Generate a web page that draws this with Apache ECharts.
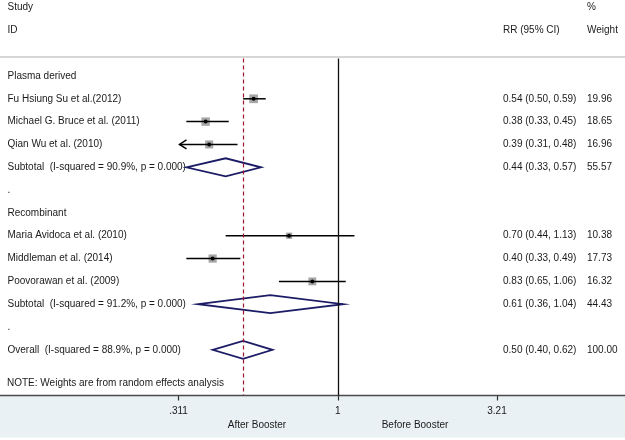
<!DOCTYPE html>
<html><head><meta charset="utf-8">
<script src="https://cdn.jsdelivr.net/npm/echarts@6/dist/echarts.min.js"></script>
<style>html,body{margin:0;padding:0;background:#fff}#c{width:625px;height:440px}</style>
</head><body><div id="c"></div>
<script>
// ---- data ----
const headerLeft = ['Study', 'ID'];
const headerRR = ['', 'RR (95% CI)'];
const headerWeight = ['%', 'Weight'];
const rowLabels = [
  'Plasma derived',
  'Fu Hsiung Su et al.(2012)',
  'Michael G. Bruce et al. (2011)',
  'Qian Wu et al. (2010)',
  'Subtotal  (I-squared = 90.9%, p = 0.000)',
  '.',
  'Recombinant',
  'Maria Avidoca et al. (2010)',
  'Middleman et al. (2014)',
  'Poovorawan et al. (2009)',
  'Subtotal  (I-squared = 91.2%, p = 0.000)',
  '.',
  'Overall  (I-squared = 88.9%, p = 0.000)'
];
const rowKind = [null, 0, 0, 0, 1, null, null, 0, 0, 0, 1, null, 1]; // 0 study, 1 pooled diamond
const rr     = [null, 0.54, 0.38, 0.39, 0.44, null, null, 0.70, 0.40, 0.83, 0.61, null, 0.50];
const ciLow  = [null, 0.50, 0.33, 0.31, 0.33, null, null, 0.44, 0.33, 0.65, 0.36, null, 0.40];
const ciHigh = [null, 0.59, 0.45, 0.48, 0.57, null, null, 1.13, 0.49, 1.06, 1.04, null, 0.62];
const weight = [null, 19.96, 18.65, 16.96, 55.57, null, null, 10.38, 17.73, 16.32, 44.43, null, 100.00];
const overallRR = 0.50;
const nullValue = 1;
const xTickLabels = ['.311', '1', '3.21'];
const xMin = 1 / 3.21, xMax = 3.21;
const noteText = 'NOTE: Weights are from random effects analysis';
const axisSideLabels = ['After Booster', 'Before Booster'];

// ---- build ----
const FONT = '"Liberation Sans", Arial, sans-serif';
const TXT = '#1a1a1a';
const f2 = v => v.toFixed(2);
function leftText(v) {
  if (v < 0) return headerLeft[v + 3] || '';
  return rowLabels[v] || '';
}
function rrText(v) {
  if (v < 0) return headerRR[v + 3] || '';
  if (rr[v] == null) return '';
  return f2(rr[v]) + ' (' + f2(ciLow[v]) + ', ' + f2(ciHigh[v]) + ')';
}
function wText(v) {
  if (v < 0) return headerWeight[v + 3] || '';
  if (weight[v] == null) return '';
  return f2(weight[v]);
}
const seriesData = [];
rr.forEach((v, i) => {
  if (v != null) seriesData.push([ciLow[i], ciHigh[i], v, i, weight[i], rowKind[i]]);
});

const yBase = {
  type: 'value', min: -3, max: 14, interval: 1, inverse: true,
  axisLine: {show: false}, axisTick: {show: false}, splitLine: {show: false}
};
const labelBase = {fontSize: 10, color: TXT, fontFamily: FONT};
const sepRow = -0.77;

const chart = echarts.init(document.getElementById('c'), null, {renderer: 'canvas'});
chart.setOption({
  animation: false,
  backgroundColor: '#fff',
  grid: {left: 178.5, right: 128, top: 7.5, bottom: 44.5, containLabel: false, outerBoundsMode: 'none'},
  xAxis: {
    type: 'log', logBase: 3.21, min: xMin, max: xMax, interval: 1, position: 'bottom',
    axisLine: {show: false, onZero: false},
    axisTick: {show: true, length: 5, lineStyle: {color: '#333', width: 1.2}},
    splitLine: {show: false},
    axisLabel: Object.assign({}, labelBase, {margin: 11, formatter: (v, i) => xTickLabels[i] || ''})
  },
  yAxis: [
    Object.assign({}, yBase, {position: 'left',
      axisLabel: Object.assign({}, labelBase, {align: 'left', margin: 171, formatter: leftText})}),
    Object.assign({}, yBase, {position: 'right', offset: 0,
      axisLabel: Object.assign({}, labelBase, {align: 'left', margin: 6, formatter: rrText})}),
    Object.assign({}, yBase, {position: 'right', offset: 84,
      axisLabel: Object.assign({}, labelBase, {align: 'left', margin: 6, formatter: wText})})
  ],
  graphic: [
    {type: 'rect', z: -1, silent: true, shape: {x: 0, y: 395.5, width: 625, height: 42}, style: {fill: '#e9f1f4'}},
    {type: 'line', z: 5, silent: true, shape: {x1: 0, y1: 395.5, x2: 625, y2: 395.5}, style: {stroke: '#4a4a4a', lineWidth: 1.5}},
    {type: 'line', z: 5, silent: true, shape: {x1: 0, y1: 57, x2: 625, y2: 57}, style: {stroke: '#d6d6d6', lineWidth: 2}},
    {type: 'text', silent: true, x: 7, y: 383, style: {text: noteText, fill: TXT, font: '10px ' + FONT, verticalAlign: 'middle'}},
    {type: 'text', silent: true, x: 257, y: 425, style: {text: axisSideLabels[0], fill: TXT, font: '10px ' + FONT, align: 'center', verticalAlign: 'middle'}},
    {type: 'text', silent: true, x: 415, y: 425, style: {text: axisSideLabels[1], fill: TXT, font: '10px ' + FONT, align: 'center', verticalAlign: 'middle'}}
  ],
  series: [{
    type: 'custom',
    xAxisIndex: 0, yAxisIndex: 0,
    encode: {x: [0, 1, 2], y: 3},
    data: seriesData,
    z: 3,
    renderItem: function (params, api) {
      const lo = api.value(0), hi = api.value(1), c = api.value(2), row = api.value(3), w = api.value(4), k = api.value(5);
      const cs = params.coordSys;
      const pc = api.coord([c, row]);
      let xl = api.coord([lo, row])[0], xh = api.coord([hi, row])[0];
      const y = pc[1];
      const children = [];
      if (k === 0) {
        const clipL = xl < cs.x, clipR = xh > cs.x + cs.width;
        xl = Math.max(xl, cs.x + 1); xh = Math.min(xh, cs.x + cs.width);
        const s = 1.95 * Math.sqrt(w);
        children.push({type: 'rect', shape: {x: pc[0] - s / 2, y: y - s / 2, width: s, height: s}, style: {fill: '#a6a6a6'}});
        children.push({type: 'line', shape: {x1: xl, y1: y, x2: xh, y2: y}, style: {stroke: '#000', lineWidth: 1.5}});
        if (clipL) children.push({type: 'polyline', shape: {points: [[xl + 7, y - 4.5], [xl, y], [xl + 7, y + 4.5]]}, style: {stroke: '#000', lineWidth: 1.5, fill: 'none'}});
        if (clipR) children.push({type: 'polyline', shape: {points: [[xh - 7, y - 4.5], [xh, y], [xh - 7, y + 4.5]]}, style: {stroke: '#000', lineWidth: 1.5, fill: 'none'}});
        children.push({type: 'circle', shape: {cx: pc[0], cy: y, r: 2}, style: {fill: '#000'}});
      } else {
        const h = 9;
        children.push({type: 'polygon', shape: {points: [[xl, y], [pc[0], y - h], [xh, y], [pc[0], y + h]]},
          style: {fill: 'none', stroke: '#1b1b66', lineWidth: 1.8}});
      }
      return {type: 'group', children: children};
    },
    markLine: {
      silent: true, symbol: 'none', label: {show: false},
      data: [
        [{coord: [nullValue, sepRow], lineStyle: {color: '#111', width: 1.3, type: 'solid'}}, {coord: [nullValue, 14]}],
        [{coord: [overallRR, sepRow], lineStyle: {color: '#9b1530', width: 1.2, type: [4, 3]}}, {coord: [overallRR, 14]}]
      ]
    }
  }]
});
</script>
</body></html>
